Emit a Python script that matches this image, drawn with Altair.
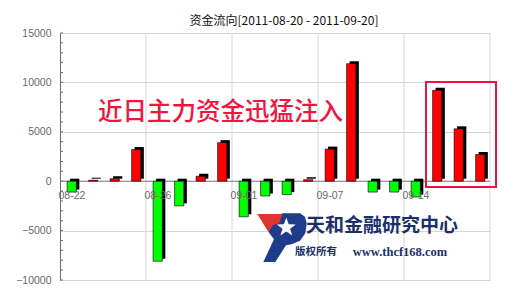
import math
import altair as alt
import pandas as pd

# Daily net capital flow (trading days, 2011-08-22 .. 2011-09-19)
dates = ["08-22", "08-23", "08-24", "08-25", "08-26", "08-29", "08-30", "08-31", "09-01", "09-02",
         "09-05", "09-06", "09-07", "09-08", "09-09", "09-13", "09-14", "09-15", "09-16", "09-19"]
flows = [-1100, 100, 250, 3200, -8100, -2500, 500, 3900, -3600, -1500,
         -1350, 150, 3250, 11900, -1100, -1100, -1600, 9200, 5300, 2700]
tick_dates = ["08-22", "08-26", "09-01", "09-07", "09-14"]
y_ticks = [-10000, -5000, 0, 5000, 10000, 15000]
minor_ticks = list(range(-10000, 15001, 1000))

title_text = "资金流向[2011-08-20 - 2011-09-20]"
slogan = "近日主力资金迅猛注入"
brand = "天和金融研究中心"
rights = "版权所有"
site = "www.thcf168.com"

W, H = 430, 247
n = len(dates)

bars = pd.DataFrame({"idx": range(n), "date": dates, "flow": flows})
xs = alt.Scale(domain=[0, n], nice=False, zero=False)
ys = alt.Scale(domain=[y_ticks[0], y_ticks[-1]], nice=False)
GRID = "#d6d6d6"
LABEL = "#6a6a6a"

# one shared axis definition for every layer that uses the y scale
y_axis = alt.Axis(values=y_ticks, format="d", grid=True, gridColor=GRID, ticks=False,
                  domainColor="#6e6e6e", labelColor=LABEL, labelFontSize=10.5,
                  labelFont="Liberation Sans", labelPadding=9, title=None)


def Y(field):
    return alt.Y(field, scale=ys, axis=y_axis)


def X(field):
    return alt.X(field, scale=xs, axis=None)


base = alt.Chart(bars).transform_calculate(
    x0="datum.idx + 0.33", x1="datum.idx + 0.76", zero="0"
)

# dark side/top of each column, offset up and right for a 3D look
shadow = base.mark_rect(color="#000000", xOffset=3, x2Offset=3, yOffset=-2.5, y2Offset=-2.5).encode(
    x=X("x0:Q"), x2="x1:Q", y=Y("flow:Q"), y2="zero:Q",
)

front = base.mark_rect(stroke="#000000", strokeWidth=0.6).encode(
    x=X("x0:Q"), x2="x1:Q", y=Y("flow:Q"), y2="zero:Q",
    color=alt.condition("datum.flow >= 0", alt.value("#ff0000"), alt.value("#00ff00")),
)

# vertical grid lines at labelled days plus right frame
vgrid_df = pd.DataFrame({"pos": [dates.index(d) for d in tick_dates[1:]] + [n],
                         "top": y_ticks[-1], "bot": y_ticks[0]})
vgrid = alt.Chart(vgrid_df).mark_rule(color=GRID, strokeWidth=1).encode(
    x=X("pos:Q"), y=Y("top:Q"), y2="bot:Q",
)

zero_df = pd.DataFrame({"a": [0], "b": [n], "v": [0]})
zero_line = alt.Chart(zero_df).mark_rule(color="#808080", strokeWidth=1).encode(
    x=X("a:Q"), x2="b:Q", y=Y("v:Q"),
)

tick_df = pd.DataFrame({"v": minor_ticks})
minor = alt.Chart(tick_df).mark_rule(color="#6e6e6e", strokeWidth=1).encode(
    y=Y("v:Q"), x=alt.value(0), x2=alt.value(3),
)

xlab_df = pd.DataFrame({"pos": [dates.index(d) for d in tick_dates], "label": tick_dates, "v": 0})
xlabels = alt.Chart(xlab_df).mark_text(
    align="left", baseline="alphabetic", dx=-1.5, dy=17.5,
    font="Liberation Sans", fontSize=10.5, color=LABEL,
).encode(x=X("pos:Q"), y=Y("v:Q"), text="label:N")


def text_layer(txt, x, y, **kw):
    return alt.Chart(pd.DataFrame({"t": [txt]})).mark_text(**kw).encode(
        x=alt.value(x), y=alt.value(y), text="t:N"
    )


title = text_layer(title_text, 224, -12.5, font="Noto Sans CJK SC", fontSize=12,
                   color="#111111", align="center", baseline="middle")
slogan_t = text_layer(slogan, 160.5, 80, font="Noto Sans CJK SC", fontSize=24.5, fontWeight=500,
                      color="#f5123f", align="center", baseline="middle")
brand_t = text_layer(brand, 322, 192.5, font="Noto Sans CJK SC", fontSize=19, fontWeight="bold",
                     color="#1b2f6b", align="center", baseline="middle")
rights_t = text_layer(rights, 256, 219, font="Noto Sans CJK SC", fontSize=10.5, fontWeight="bold",
                      color="#1b2f6b", align="center", baseline="middle")
site_t = text_layer(site, 340, 219, font="Liberation Serif", fontSize=12.5, fontWeight="bold",
                    color="#1b2f6b", align="center", baseline="middle")

# highlight box around the last three sessions
box = alt.Chart(pd.DataFrame({"t": [0]})).mark_rect(
    fill=None, stroke="#e8173f", strokeWidth=2
).encode(x=alt.value(366), x2=alt.value(436), y=alt.value(49), y2=alt.value(154))

# emblem: blue "P", red wedge, white star (paths in pixel offsets, size=4 -> scale 1)
p_path = ("M0.7,-23.7L18,-23.7L23,-20.3L24.7,-13.7L23.3,-3.7L18,3.7L9.7,7.3L4,8.3"
          "L-6.7,25L-18.7,25L-8,2.3L-13.7,-5.3L-3.7,-22Z")
wedge_path = "M-24.7,-23L0.7,-23L-2.7,-13.7L-8.7,-12L-13.7,-5.3Z"
cx, cy, R, r = 4.3, -9.5, 10.0, 4.0
pts = []
for k in range(10):
    rad = R if k % 2 == 0 else r
    a = -math.pi / 2 + k * math.pi / 5
    pts.append(f"{cx + rad * math.cos(a):.2f},{cy + rad * math.sin(a):.2f}")
star_path = "M" + "L".join(pts) + "Z"


def emblem(path, color):
    return alt.Chart(pd.DataFrame({"t": [0]})).mark_point(
        shape=path, size=4, filled=True, fill=color, opacity=1, strokeWidth=0
    ).encode(x=alt.value(222), y=alt.value(204))


logo = emblem(p_path, "#1f3c8c") + emblem(wedge_path, "#e0352d") + emblem(star_path, "#ffffff")

chart = alt.layer(
    vgrid, zero_line, minor, shadow, front, xlabels,
    slogan_t, box, logo, brand_t, rights_t, site_t, title,
).properties(
    width=W, height=H,
    autosize=alt.AutoSizeParams(type="none"),
    padding={"left": 60, "top": 33, "right": 25, "bottom": 14},
    background="#ffffff",
).configure_view(stroke=None)

chart.save("out.html", embed_options={"renderer": "svg", "actions": False})
